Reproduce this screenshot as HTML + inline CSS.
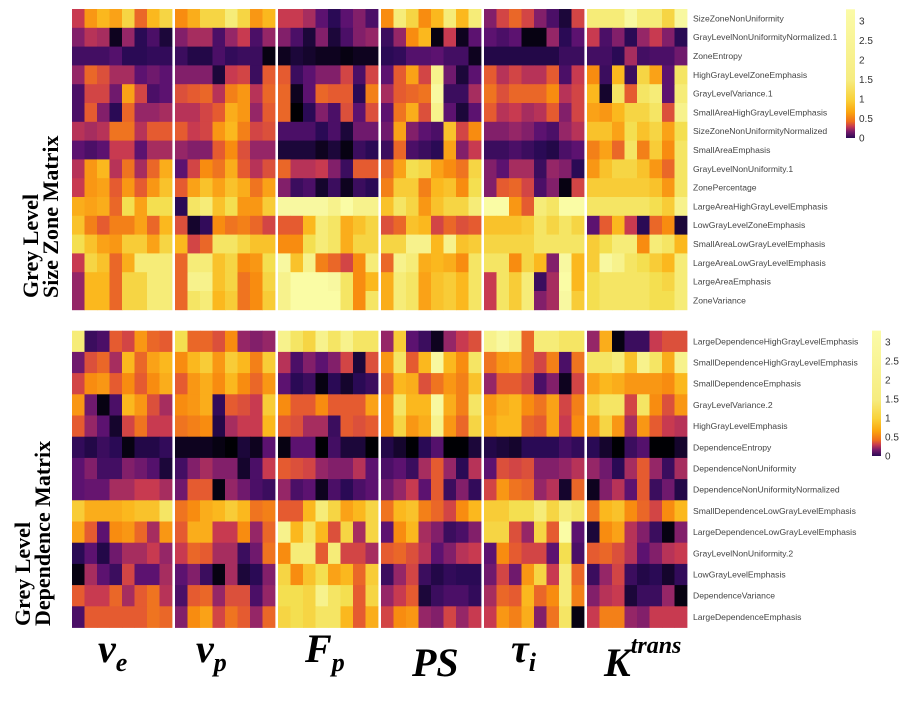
<!DOCTYPE html>
<html><head><meta charset="utf-8">
<style>
html,body{margin:0;padding:0;background:#fff;}
body{width:908px;height:698px;overflow:hidden;}
svg text{font-family:"Liberation Sans",sans-serif;}
.ttl{font-family:"Liberation Serif",serif;font-weight:bold;font-size:22px;fill:#000;}
.gl{font-family:"Liberation Serif",serif;font-weight:bold;font-style:italic;fill:#000;}
.rl{font-size:8.6px;fill:#444;}
.lg{font-size:10px;fill:#333;}
</style></head>
<body>
<svg id="chart" width="908" height="698" viewBox="0 0 908 698" xmlns="http://www.w3.org/2000/svg">
  <g id="cells"></g>
  <g id="rowlabels"></g>
  <g>
    <text class="ttl" transform="translate(38,298) rotate(-90)">Grey Level</text>
    <text class="ttl" transform="translate(58,298) rotate(-90)">Size Zone Matrix</text>
  </g>
  <g>
    <text class="ttl" transform="translate(30,626) rotate(-90)">Grey Level</text>
    <text class="ttl" transform="translate(50,626) rotate(-90)">Dependence Matrix</text>
  </g>
  <g>
    <text class="gl" x="98" y="662" font-size="40">v<tspan font-size="26" dy="9">e</tspan></text>
    <text class="gl" x="196" y="662" font-size="40">v<tspan font-size="26" dy="9">p</tspan></text>
    <text class="gl" x="305" y="662" font-size="40">F<tspan font-size="26" dy="9">p</tspan></text>
    <text class="gl" x="412" y="676" font-size="40">PS</text>
    <text class="gl" x="511" y="662" font-size="40">τ<tspan font-size="26" dy="9">i</tspan></text>
    <text class="gl" x="604" y="676" font-size="40">K<tspan font-size="24" dy="-23">trans</tspan></text>
  </g>
  <defs>
    <linearGradient id="cb" x1="0" y1="1" x2="0" y2="0">
      <stop offset="0" stop-color="#2a0a55"/>
      <stop offset="0.05" stop-color="#7a1a6a"/>
      <stop offset="0.09" stop-color="#c83a50"/>
      <stop offset="0.13" stop-color="#f0701c"/>
      <stop offset="0.2" stop-color="#fba50e"/>
      <stop offset="0.3" stop-color="#f9d23a"/>
      <stop offset="0.45" stop-color="#f6ec80"/>
      <stop offset="1" stop-color="#fbfba8"/>
    </linearGradient>
  </defs>
  <g id="legend1"></g>
  <g id="legend2"></g>
</svg>
<script>
const groups = ["ve","vp","Fp","PS","taui","Ktrans"];
const topRows = ["SizeZoneNonUniformity","GrayLevelNonUniformityNormalized.1","ZoneEntropy","HighGrayLevelZoneEmphasis","GrayLevelVariance.1","SmallAreaHighGrayLevelEmphasis","SizeZoneNonUniformityNormalized","SmallAreaEmphasis","GrayLevelNonUniformity.1","ZonePercentage","LargeAreaHighGrayLevelEmphasis","LowGrayLevelZoneEmphasis","SmallAreaLowGrayLevelEmphasis","LargeAreaLowGrayLevelEmphasis","LargeAreaEmphasis","ZoneVariance"];
const bottomRows = ["LargeDependenceHighGrayLevelEmphasis","SmallDependenceHighGrayLevelEmphasis","SmallDependenceEmphasis","GrayLevelVariance.2","HighGrayLevelEmphasis","DependenceEntropy","DependenceNonUniformity","DependenceNonUniformityNormalized","SmallDependenceLowGrayLevelEmphasis","LargeDependenceLowGrayLevelEmphasis","GrayLevelNonUniformity.2","LowGrayLevelEmphasis","DependenceVariance","LargeDependenceEmphasis"];
const legendTicks = [0,0.5,1,1.5,2,2.5,3];
const topValues = [
[1.2,2.0,2.3,2.1,2.6,1.6,2.3,2.6, 1.9,2.2,2.6,2.6,2.9,2.6,2.0,2.3, 1.2,1.2,1.0,0.6,0.3,0.6,0.8,0.5, 1.9,2.9,2.6,1.9,2.3,2.9,2.3,2.9, 0.8,1.3,1.6,1.3,0.8,0.5,0.2,1.3, 2.9,2.9,2.9,3.1,2.9,2.9,2.6,3.1],
[0.8,1.1,1.0,0.1,0.9,0.3,0.5,0.2, 0.8,1.0,1.0,0.5,0.9,1.2,0.5,0.9, 0.8,0.5,0.2,0.8,0.2,0.5,0.8,0.9, 0.4,0.9,1.9,2.3,0.05,1.2,0.1,0.6, 0.6,0.5,0.6,0.05,0.05,0.9,0.3,0.6, 1.2,0.5,0.8,0.3,0.9,1.2,0.8,0.3],
[0.45,0.45,0.45,0.55,0.3,0.3,0.35,0.35, 0.4,0.25,0.25,0.5,0.35,0.4,0.4,0.05, 0.1,0.2,0.15,0.1,0.1,0.05,0.1,0.1, 0.3,0.35,0.55,0.55,0.6,0.45,0.45,0.1, 0.25,0.25,0.25,0.25,0.25,0.25,0.4,0.4, 0.45,0.45,0.3,1.0,0.45,0.5,0.5,0.7],
[0.9,1.6,1.4,1.0,1.0,0.6,0.7,0.6, 0.8,0.8,0.8,0.2,1.2,1.3,0.4,1.5, 1.5,0.4,0.6,0.8,0.8,1.3,0.5,1.3, 0.6,1.5,2.1,1.3,3.0,0.7,0.2,0.6, 1.5,1.1,1.3,1.1,1.1,1.5,0.5,1.2, 1.9,0.4,2.3,0.4,2.6,2.1,0.6,2.8],
[0.5,1.3,1.3,0.7,2.1,1.3,0.5,0.6, 1.4,1.5,1.6,1.1,1.8,2.0,1.1,1.6, 1.6,0.1,0.6,1.6,1.5,1.5,0.3,1.8, 1.0,1.5,1.6,1.7,3.1,0.4,0.4,1.0, 1.7,1.4,1.6,1.6,1.6,1.9,1.1,1.3, 2.3,0.15,2.8,1.5,2.8,2.9,0.6,2.9],
[0.5,1.5,0.8,0.3,1.6,0.9,0.9,1.0, 1.1,1.1,1.3,1.5,2.2,2.0,0.9,1.5, 1.6,0.0,0.3,0.8,0.5,1.4,0.6,1.4, 0.6,1.7,2.2,1.4,3.0,0.6,0.2,0.6, 1.5,1.1,1.2,1.0,1.1,1.5,0.8,1.3, 2.1,2.0,2.3,2.6,2.6,2.8,1.4,3.0],
[1.1,1.0,1.1,1.7,1.7,1.1,1.5,1.5, 1.5,1.2,1.3,2.0,2.3,1.8,1.3,1.4, 0.5,0.5,0.5,0.3,0.5,0.2,0.7,0.7, 0.7,2.1,0.8,0.6,0.5,2.4,1.3,1.9, 0.8,0.8,0.9,0.8,0.6,0.5,0.9,1.1, 2.4,2.4,2.1,2.7,2.4,2.6,2.1,2.7],
[0.6,0.5,0.6,1.2,1.2,0.6,1.0,1.0, 0.9,0.8,0.8,1.5,1.9,1.4,0.9,0.9, 0.2,0.2,0.2,0.1,0.2,0.05,0.4,0.3, 0.4,1.6,0.5,0.4,0.3,2.1,0.8,1.2, 0.4,0.4,0.5,0.4,0.3,0.25,0.5,0.6, 1.8,2.1,1.6,2.8,1.8,2.5,1.9,2.8],
[1.1,2.0,2.3,1.1,1.7,1.0,1.6,2.2, 0.6,1.3,1.9,1.7,2.2,1.5,1.1,1.4, 1.6,1.1,1.1,1.2,0.8,0.4,1.5,1.5, 1.6,2.1,2.7,2.6,2.1,1.9,1.7,2.6, 0.8,0.6,1.0,1.0,0.4,0.9,0.8,0.3, 2.0,2.4,2.6,2.6,2.4,2.0,1.6,2.8],
[1.2,2.0,2.1,1.5,2.0,1.5,2.0,2.4, 1.5,2.1,2.4,2.1,2.4,2.2,1.7,2.1, 0.8,0.4,0.5,0.15,0.4,0.1,0.4,0.3, 1.8,2.5,2.5,1.8,2.3,2.4,1.9,2.7, 0.8,1.5,1.6,1.3,0.5,0.8,0.05,1.3, 2.5,2.5,2.5,2.5,2.5,2.4,2.0,2.8],
[2.2,2.1,2.2,1.6,2.7,2.1,2.7,2.7, 0.3,2.8,2.9,2.4,2.7,2.0,2.0,2.5, 3.1,3.1,3.1,3.1,3.0,3.2,3.0,3.0, 2.4,2.8,2.6,2.0,2.4,2.6,2.6,2.9, 3.2,3.2,2.0,1.5,2.9,2.8,3.2,3.2, 2.8,2.8,2.8,2.8,2.8,2.7,2.5,3.0],
[2.4,1.8,1.5,1.8,1.8,2.1,1.6,2.3, 1.4,0.15,0.35,1.9,1.7,1.8,1.6,1.3, 1.5,1.5,2.3,2.9,2.8,2.2,2.4,2.6, 1.4,1.6,2.4,2.3,1.3,1.6,1.4,1.5, 2.4,2.4,2.4,2.5,2.8,2.6,2.8,2.6, 0.6,1.5,2.3,1.2,0.3,1.6,1.9,0.2],
[2.7,2.4,2.1,2.0,2.5,2.5,2.1,2.6, 2.3,1.3,1.6,2.8,2.8,2.6,2.4,2.4, 1.9,1.9,2.7,2.9,2.8,2.2,2.6,2.6, 2.6,2.6,3.0,3.0,2.3,3.0,2.4,2.5, 2.6,2.6,2.6,2.6,2.8,2.8,2.8,2.8, 2.5,2.7,2.9,2.9,1.9,2.9,2.8,2.3],
[1.2,2.6,2.4,1.6,2.2,2.9,2.9,2.9, 1.6,2.9,2.9,2.4,2.6,1.9,2.0,2.7, 3.1,2.4,3.0,1.8,1.6,1.3,1.9,2.9, 1.6,3.0,2.9,2.2,2.3,2.2,1.9,2.8, 2.8,2.8,1.9,2.6,2.3,0.8,3.1,2.3, 2.5,3.1,3.0,2.8,2.7,2.5,2.3,2.9],
[0.9,2.3,2.3,1.6,2.6,2.6,2.9,2.9, 1.6,3.0,3.0,2.4,2.6,1.7,1.9,2.6, 3.0,3.2,3.2,3.2,3.1,2.8,1.9,2.3, 2.2,2.9,2.8,2.1,2.4,2.5,2.3,2.8, 1.2,2.8,2.5,2.9,0.4,1.0,3.2,2.3, 2.7,2.8,2.8,2.8,2.8,2.7,2.6,2.9],
[0.9,2.3,2.3,1.6,2.6,2.6,2.9,2.9, 1.6,2.8,2.9,2.3,2.5,1.7,1.9,2.5, 3.0,3.2,3.2,3.2,3.2,2.8,1.9,2.8, 2.2,2.9,2.8,2.1,2.4,2.5,2.3,2.8, 1.2,2.8,2.5,2.9,0.8,1.0,3.1,2.5, 2.7,2.8,2.8,2.8,2.8,2.7,2.7,2.9]
];
const bottomValues = [
[2.9,0.4,0.5,1.5,1.3,2.0,1.6,1.5, 2.7,1.6,1.6,1.4,1.9,0.9,0.8,0.9, 3.0,2.8,2.6,3.0,2.8,3.0,2.8,2.8, 0.9,2.5,0.6,0.4,0.1,0.9,1.2,1.4, 3.0,3.1,3.0,1.6,2.9,2.9,2.8,2.8, 0.9,2.2,0.05,0.4,0.4,1.2,1.4,1.4],
[0.7,1.4,1.6,1.0,2.3,1.6,2.1,2.3, 1.9,2.3,2.5,2.0,2.5,2.3,1.8,2.5, 1.1,0.5,0.8,0.6,0.8,1.3,0.2,1.4, 2.0,2.8,1.5,2.3,3.1,2.3,1.9,2.8, 1.7,2.0,2.1,1.6,1.3,1.8,0.5,1.7, 2.8,2.8,2.9,2.4,3.0,2.8,2.2,3.0],
[1.3,1.9,2.0,1.5,1.9,1.5,1.9,2.2, 1.5,2.0,2.2,1.9,2.3,1.9,1.6,2.0, 0.6,0.3,0.4,0.05,0.3,0.15,0.3,0.4, 1.6,2.3,2.2,1.4,1.7,2.0,1.8,2.4, 0.9,1.5,1.5,1.3,0.5,0.8,0.1,1.3, 2.1,2.3,2.2,2.0,2.0,2.0,1.9,2.3],
[2.0,0.7,0.05,0.5,2.3,2.0,1.4,1.0, 1.9,2.0,2.2,0.35,1.5,1.4,1.2,2.5, 1.9,1.5,1.5,1.9,1.5,1.5,1.5,2.1, 1.9,2.8,2.3,2.3,3.1,2.2,1.8,2.8, 2.0,2.2,2.3,1.9,1.7,2.1,1.3,1.8, 2.6,2.8,2.8,1.3,2.8,1.9,1.4,2.0],
[1.5,0.9,0.6,0.15,1.3,1.7,1.2,1.2, 1.7,1.8,1.9,0.25,1.0,1.2,1.2,2.3, 1.5,1.4,1.0,1.0,0.4,1.5,1.4,1.5, 1.9,2.6,2.0,2.2,3.0,2.0,1.6,2.6, 2.1,2.3,2.3,1.6,1.5,2.1,1.2,1.9, 2.0,2.6,2.0,1.0,2.0,1.5,1.2,1.1],
[0.35,0.25,0.4,0.3,0.05,0.25,0.25,0.35, 0.1,0.1,0.1,0.05,0.0,0.2,0.1,0.6, 0.05,0.6,0.6,0.0,0.45,0.2,0.2,0.0, 0.25,0.15,0.0,0.3,0.55,0.0,0.0,0.2, 0.25,0.2,0.15,0.3,0.3,0.3,0.45,0.35, 0.3,0.15,0.0,0.4,0.55,0.0,0.0,0.15],
[0.6,0.8,0.45,0.45,0.8,0.7,0.55,0.2, 0.45,0.8,1.0,0.8,0.8,0.15,0.5,1.2, 1.5,1.4,1.3,0.9,0.8,0.8,1.1,0.6, 0.5,0.6,0.4,1.0,1.5,0.9,0.3,1.1, 0.6,1.4,1.3,1.4,0.8,0.8,0.9,1.1, 0.9,0.7,0.3,1.0,1.5,0.9,0.4,1.0],
[0.6,0.65,0.65,1.0,1.0,1.2,1.2,1.0, 0.7,1.5,1.5,0.05,0.9,0.7,0.5,0.4, 0.9,0.5,0.6,0.1,0.5,0.3,0.5,0.6, 0.7,0.9,1.2,0.6,1.5,0.4,0.8,0.35, 1.3,2.0,1.7,1.6,0.9,1.1,0.15,1.6, 0.1,0.8,1.1,0.6,1.5,0.4,0.7,0.25],
[2.5,2.2,2.2,2.2,2.3,2.4,2.4,2.8, 1.7,1.9,2.2,2.3,2.5,2.3,1.7,1.8, 1.5,1.5,2.3,2.9,2.6,2.1,2.3,2.6, 1.7,2.3,2.4,1.8,1.6,1.3,1.9,2.3, 2.5,2.5,2.7,2.7,2.9,2.6,2.9,2.8, 1.7,2.3,2.4,1.9,1.6,1.3,1.9,2.3],
[2.1,1.5,0.6,1.9,2.0,1.6,1.0,2.0, 1.5,2.2,2.2,1.2,1.2,1.9,0.9,1.6, 3.0,2.3,2.8,2.3,1.4,2.6,1.0,2.6, 0.6,1.9,2.3,1.0,0.8,0.4,0.5,0.8, 2.6,2.6,1.4,0.9,2.6,1.5,3.2,0.6, 0.2,1.9,2.1,1.1,0.8,0.4,0.05,0.8],
[0.3,0.6,0.25,0.7,1.0,1.0,1.2,0.9, 1.2,1.6,1.5,1.0,1.0,0.4,0.7,1.7, 1.9,2.9,2.9,1.5,2.9,1.3,1.3,1.0, 1.5,1.6,1.4,1.1,0.6,0.8,1.1,1.2, 0.6,1.9,1.5,1.3,1.3,0.6,2.7,0.5, 1.5,1.6,1.4,1.1,0.6,0.8,1.1,1.2],
[0.05,1.0,0.6,0.4,1.3,0.6,0.6,1.0, 0.6,0.8,0.4,0.05,1.0,0.2,0.3,0.8, 2.6,1.9,2.4,2.7,2.1,2.3,1.6,2.5, 0.4,0.9,1.3,0.4,0.25,0.35,0.3,0.3, 0.7,1.3,0.7,2.0,2.6,1.2,2.9,1.6, 0.4,0.9,1.3,0.4,0.25,0.3,0.15,0.35],
[1.5,1.2,1.2,1.6,1.0,1.5,1.7,1.1, 0.5,1.5,1.6,0.9,1.4,1.4,0.5,0.9, 2.7,2.7,2.6,3.0,2.8,2.7,1.5,2.6, 0.9,1.2,1.5,0.2,0.4,0.5,0.5,0.35, 1.0,1.6,1.5,2.3,1.6,1.9,2.9,1.8, 0.8,1.1,1.2,0.2,0.4,0.4,0.9,0.05],
[0.5,1.5,1.5,1.5,1.5,1.5,1.7,1.6, 0.8,1.9,2.1,1.3,1.7,1.5,0.9,1.6, 2.6,2.7,2.6,2.8,2.8,2.3,1.5,2.2, 1.3,1.9,2.0,0.9,0.8,1.3,0.9,1.2, 1.2,2.0,1.8,2.2,0.8,1.7,2.8,0.05, 1.2,1.8,1.8,0.9,0.8,1.2,1.2,1.2]
];

const NS = "http://www.w3.org/2000/svg";
const stops = [[0,[0,0,4]],[0.3,[42,10,85]],[0.6,[92,18,112]],[0.9,[149,38,103]],[1.2,[200,58,80]],[1.5,[229,91,48]],[1.9,[248,140,16]],[2.3,[251,184,30]],[2.7,[244,223,80]],[3.1,[248,248,160]],[3.3,[252,255,170]]];
function color(v){
  v=Math.max(0,Math.min(3.3,v));
  for(let i=1;i<stops.length;i++){
    if(v<=stops[i][0]){
      const a=stops[i-1],b=stops[i],t=(v-a[0])/(b[0]-a[0]);
      const c=a[1].map((x,k)=>Math.round(x+(b[1][k]-x)*t));
      return "rgb("+c.join(",")+")";
    }
  }
  return "rgb(252,255,170)";
}
const nCols = 8, groupStep = 103, groupW = 100, x0 = 72;
function xScale(col){ const g=Math.floor(col/nCols), c=col%nCols; return x0+g*groupStep+c*groupW/nCols; }
const cellW = groupW/nCols;
function drawPanel(rows, values, top, rowH, name){
  const cg=document.getElementById('cells');
  const lg=document.getElementById('rowlabels');
  values.forEach((row,r)=>{
    row.forEach((v,c)=>{
      const rect=document.createElementNS(NS,'rect');
      rect.setAttribute('x',xScale(c));
      rect.setAttribute('y',top+r*rowH);
      rect.setAttribute('width',cellW+0.4);
      rect.setAttribute('height',rowH+0.4);
      rect.setAttribute('fill',color(v));
      
      
      cg.appendChild(rect);
    });
    const t=document.createElementNS(NS,'text');
    t.setAttribute('x',693);
    t.setAttribute('y',top+r*rowH+rowH/2+3);
    t.setAttribute('class','rl');
    t.textContent=rows[r];
    
    
    lg.appendChild(t);
  });
}
drawPanel(topRows, topValues, 9, 18.8, 'top');
drawPanel(bottomRows, bottomValues, 330.7, 21.2, 'bottom');
function drawLegend(id, x, y0, y3){
  const g=document.getElementById(id);
  const per=(y0-y3)/3;
  const r=document.createElementNS(NS,'rect');
  r.setAttribute('x',x); r.setAttribute('y',y3-per*0.3);
  r.setAttribute('width',9); r.setAttribute('height',(y0-y3)+per*0.3);
  r.setAttribute('fill','url(#cb)');
  
  
  g.appendChild(r);
  legendTicks.forEach(v=>{
    const t=document.createElementNS(NS,'text');
    t.setAttribute('x',x+13);
    t.setAttribute('y',y0-v*per+3.5);
    t.setAttribute('class','lg');
    t.textContent=String(v);
    
    
    g.appendChild(t);
  });
}
drawLegend('legend1', 846, 138, 21);
drawLegend('legend2', 872, 456, 342);
</script>
</body></html>
